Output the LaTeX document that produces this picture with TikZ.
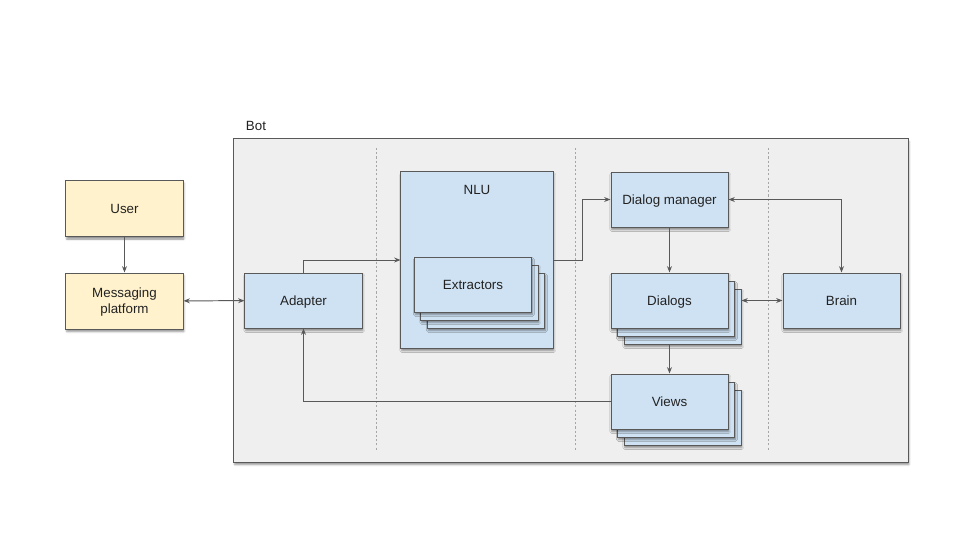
\documentclass[tikz,border=0pt]{standalone}
\usepackage{fontspec}
\setmainfont{Liberation Sans}
\usepackage{xcolor}
\usetikzlibrary{arrows.meta, positioning, calc, shadows, shadows.blur}

\definecolor{userfill}{HTML}{FFF2CC}
\definecolor{botfill}{HTML}{CFE2F3}
\definecolor{framefill}{HTML}{EFEFEF}
\definecolor{edgegray}{HTML}{595959}
\definecolor{textgray}{HTML}{222222}

\begin{document}
\begin{tikzpicture}[
    x=0.025cm, y=-0.025cm,
    font=\fontsize{9.5}{11.5}\selectfont, text=textgray,
    shade/.style={blur shadow={shadow xshift=0.6pt, shadow yshift=-1.8pt, shadow blur radius=1.4pt, shadow opacity=45}},
    userbox/.style={rectangle, shade, fill=userfill, draw=edgegray, line width=0.7pt, minimum width=2.925cm, minimum height=1.4cm, align=center, text depth=0pt},
    botbox/.style={rectangle, shade, fill=botfill, draw=edgegray, line width=0.7pt, minimum width=2.925cm, minimum height=1.375cm, align=center, text depth=0pt},
    frame/.style={rectangle, shade, fill=framefill, draw=edgegray, line width=0.7pt, minimum width=16.85cm, minimum height=8.075cm},
    divider/.style={draw=gray!70, line width=0.5pt, dash pattern=on 1.5pt off 1.5pt},
    line/.style={-{Stealth[length=4.5pt, width=3.5pt]}, draw=edgegray, line width=0.7pt},
    biline/.style={{Stealth[length=4.5pt, width=3.5pt]}-{Stealth[length=4.5pt, width=3.5pt]}, draw=edgegray, line width=0.7pt}
]
    \useasboundingbox (0,0) rectangle (960,540);

    % Bot frame
    \node[frame] (bot) at (571,300.5) {};
    \node[anchor=west, text depth=0pt] (botlabel) at (241,126) {Bot};
    \foreach \x in {376,575,768} {
        \draw[divider] (\x,148) -- (\x,451);
    }

    % Layout
    \node[userbox] (user) at (124.5,208.5) {User};
    \node[userbox] (platform) at (124.5,301) {Messaging\\platform};
    \node[botbox] (adapter) at (303.5,300.5) {Adapter};

    \node[botbox, minimum width=3.8cm, minimum height=4.4cm] (nlu) at (477,260) {};
    \node[text depth=0pt] (nlulabel) at (477,190) {NLU};
    \node[botbox] (ext3) at (486,300.5) {};
    \node[botbox] (ext2) at (479.5,292.5) {};
    \node[botbox] (ext) at (473,284.5) {Extractors};

    \node[botbox] (dm) at (669.5,199.5) {Dialog manager};

    \node[botbox] (dlg3) at (682.5,316.5) {};
    \node[botbox] (dlg2) at (676,308.5) {};
    \node[botbox] (dlg) at (669.5,300.5) {Dialogs};

    \node[botbox] (views3) at (682.5,417.5) {};
    \node[botbox] (views2) at (676,409.5) {};
    \node[botbox] (views) at (669.5,401.5) {Views};

    \node[botbox] (brain) at (841.5,300.5) {Brain};

    % Arrows
    \draw[line] (user) -- (platform);
    \draw[biline] (platform) -- (adapter);
    \draw[line] (adapter.north) |- (nlu.west);
    \draw[line] (nlu.east) -- ++(29,0) |- (dm.west);
    \draw[biline] (dm.east) -| (brain.north);
    \draw[line] (dm) -- (dlg);
    \draw[biline] (brain.west) -- (brain.west -| dlg3.east);
    \draw[line] (dlg.south |- dlg3.south) -- (views);
    \draw[line] (views.west) -| (adapter.south);
\end{tikzpicture}
\end{document}
